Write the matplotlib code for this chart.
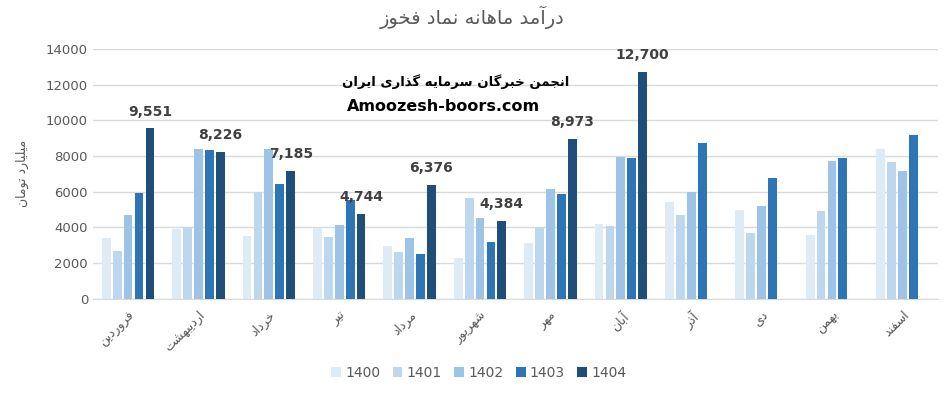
import numpy as np
import matplotlib
matplotlib.use("Agg")
import matplotlib.pyplot as plt

# ---- data (billion toman) ----
months = ["فروردین", "اردیبهشت", "خرداد", "تیر", "مرداد", "شهریور",
          "مهر", "آبان", "آذر", "دی", "بهمن", "اسفند"]
years = ["1400", "1401", "1402", "1403", "1404"]

y1400 = [3400, 3900, 3550, 3950, 2950, 2300, 3150, 4200, 5400, 5000, 3600, 8400]
y1401 = [2700, 4000, 6000, 3450, 2600, 5650, 4000, 4100, 4700, 3700, 4950, 7650]
y1402 = [4700, 8400, 8400, 4150, 3400, 4550, 6150, 7950, 6000, 5200, 7700, 7150]
y1403 = [5950, 8350, 6450, 5550, 2500, 3200, 5850, 7900, 8750, 6750, 7900, 9200]
y1404 = [9551, 8226, 7185, 4744, 6376, 4384, 8973, 12700, np.nan, np.nan, np.nan, np.nan]

colors = ["#DDEBF7", "#BDD7EE", "#9DC3E6", "#2E75B6", "#1F4E79"]

title = "درآمد ماهانه نماد فخوز"
ylabel = "میلیارد تومان"
brand_fa = "انجمن خبرگان سرمایه گذاری ایران"
brand_en = "Amoozesh-boors.com"

# ---- minimal persian shaping (matplotlib has no RTL / joining support) ----
FORMS = {
    "ا": ("\uFE8D", "\uFE8E", None, None),
    "آ": ("\uFE81", "\uFE82", None, None),
    "د": ("\uFEA9", "\uFEAA", None, None),
    "ذ": ("\uFEAB", "\uFEAC", None, None),
    "ر": ("\uFEAD", "\uFEAE", None, None),
    "ز": ("\uFEAF", "\uFEB0", None, None),
    "و": ("\uFEED", "\uFEEE", None, None),
    "ب": ("\uFE8F", "\uFE90", "\uFE91", "\uFE92"),
    "ت": ("\uFE95", "\uFE96", "\uFE97", "\uFE98"),
    "ج": ("\uFE9D", "\uFE9E", "\uFE9F", "\uFEA0"),
    "خ": ("\uFEA5", "\uFEA6", "\uFEA7", "\uFEA8"),
    "س": ("\uFEB1", "\uFEB2", "\uFEB3", "\uFEB4"),
    "ش": ("\uFEB5", "\uFEB6", "\uFEB7", "\uFEB8"),
    "ف": ("\uFED1", "\uFED2", "\uFED3", "\uFED4"),
    "ل": ("\uFEDD", "\uFEDE", "\uFEDF", "\uFEE0"),
    "م": ("\uFEE1", "\uFEE2", "\uFEE3", "\uFEE4"),
    "ن": ("\uFEE5", "\uFEE6", "\uFEE7", "\uFEE8"),
    "ه": ("\uFEE9", "\uFEEA", "\uFEEB", "\uFEEC"),
    "ی": ("\uFBFC", "\uFBFD", "\uFBFE", "\uFBFF"),
    "گ": ("\uFB92", "\uFB93", "\uFB94", "\uFB95"),
}


def fa(s):
    out = []
    for i, ch in enumerate(s):
        if ch not in FORMS:
            out.append(ch)
            continue
        f = FORMS[ch]
        prev = s[i - 1] if i > 0 else ""
        nxt = s[i + 1] if i + 1 < len(s) else ""
        join_prev = prev in FORMS and FORMS[prev][2] is not None
        join_next = f[2] is not None and nxt in FORMS
        if join_prev and join_next:
            out.append(f[3])
        elif join_prev:
            out.append(f[1])
        elif join_next:
            out.append(f[2])
        else:
            out.append(f[0])
    return "".join(reversed(out))


plt.rcParams["font.family"] = ["DejaVu Sans"]
gray = "#595959"

series = [y1400, y1401, y1402, y1403, y1404]
x = np.arange(len(months))
step = 0.155
width = 0.125

fig = plt.figure(figsize=(9.48, 3.97), dpi=100)
ax = fig.add_axes([0.098, 0.247, 0.891, 0.63])

for k, (vals, c, yr) in enumerate(zip(series, colors, years)):
    ax.bar(x + (k - 2) * step, vals, width=width, color=c, label=yr, zorder=3)

# labels on the 1404 bars
for xi, v in zip(x, y1404):
    if not np.isnan(v):
        ax.annotate(f"{v:,.0f}", (xi + 2 * step, v), xytext=(0, 7),
                    textcoords="offset points", ha="center", va="bottom",
                    fontsize=10, fontweight="bold", color="#404040")

ax.set_ylim(0, 14000)
ax.set_xlim(-0.5, len(months) - 0.5)
ax.set_yticks(range(0, 14001, 2000))
ax.yaxis.grid(True, color="#D9D9D9", linewidth=1, zorder=0)
ax.tick_params(length=0, colors=gray, labelsize=9.5)
ax.tick_params(axis="x", pad=7)
for s in ["top", "right", "left"]:
    ax.spines[s].set_visible(False)
ax.spines["bottom"].set_color("#D9D9D9")

ax.set_xticks(x)
ax.set_xticklabels([fa(m) for m in months], rotation=45, ha="right",
                   rotation_mode="anchor", fontsize=9, color=gray)

ax.set_ylabel(fa(ylabel), fontsize=9, color=gray, labelpad=12)
fig.text(0.498, 0.955, fa(title), ha="center", va="center", fontsize=14, color=gray)

ax.text(0.43, 0.868, fa(brand_fa), transform=ax.transAxes, ha="center",
        va="center", fontsize=9.5, fontweight="bold", color="black")
ax.text(0.415, 0.77, brand_en, transform=ax.transAxes, ha="center",
        va="center", fontsize=11.5, fontweight="bold", color="black")

ax.legend(loc="center", bbox_to_anchor=(0.505, 0.06), bbox_transform=fig.transFigure,
          ncol=5, frameon=False, fontsize=10, handlelength=0.7, handleheight=0.7,
          handletextpad=0.3, columnspacing=0.9, labelcolor=gray)

fig.savefig("out.png", dpi=100)
